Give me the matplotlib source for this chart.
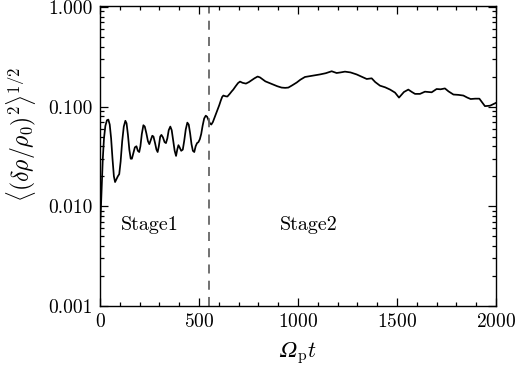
import numpy as np
import matplotlib.pyplot as plt
from matplotlib.ticker import MultipleLocator, LogLocator, FixedLocator

plt.rcParams['font.family'] = 'cmr10'
plt.rcParams['mathtext.fontset'] = 'cm'
plt.rcParams['axes.formatter.use_mathtext'] = True

# time (Omega_p t) and rms density fluctuation
t = [0, 3, 8, 14, 20, 27, 35, 42, 49, 56, 63, 70, 76, 82, 90, 97, 104, 112,
     120, 128, 134, 141, 148, 155, 161, 168, 176, 184, 191, 198, 204, 211, 219,
     226, 234, 242, 249, 256, 264, 270, 278, 285, 291, 297, 304, 310, 318, 326,
     333, 340, 347, 355, 362, 370, 377, 384, 390, 396, 402, 410, 418, 425, 433,
     441, 448, 455, 462, 469, 476, 483, 490, 497, 504, 511, 518, 526, 534, 541,
     548, 555, 562, 570, 578, 586, 594, 602, 610, 617, 623, 633, 643, 655, 665,
     673, 685, 697, 707, 720, 737, 752, 765, 780, 796, 808, 820, 835, 850, 862,
     875, 895, 917, 935, 951, 970, 993, 1012, 1035, 1055, 1077, 1095, 1111,
     1140, 1170, 1195, 1215, 1237, 1265, 1296, 1320, 1347, 1372, 1390, 1414,
     1440, 1465, 1490, 1510, 1535, 1557, 1575, 1591, 1616, 1641, 1660, 1675,
     1700, 1720, 1742, 1760, 1785, 1810, 1835, 1855, 1872, 1895, 1916, 1930,
     1944, 1970, 2000]
drho = [0.0052, 0.008, 0.015, 0.030, 0.048, 0.064, 0.073, 0.074, 0.066, 0.048,
        0.030, 0.020, 0.0175, 0.0185, 0.020, 0.021, 0.028, 0.045,
        0.063, 0.072, 0.068, 0.052, 0.037, 0.030, 0.030, 0.034, 0.039, 0.040,
        0.036, 0.035, 0.040, 0.053, 0.065,
        0.063, 0.054, 0.045, 0.042, 0.046, 0.051, 0.050, 0.043, 0.037, 0.035,
        0.040, 0.050, 0.052, 0.049, 0.044,
        0.043, 0.048, 0.058, 0.063, 0.058, 0.045, 0.036, 0.032, 0.037, 0.041,
        0.039, 0.036, 0.037, 0.045, 0.059,
        0.069, 0.066, 0.054, 0.042, 0.036, 0.035, 0.040, 0.043, 0.044, 0.047,
        0.053, 0.064, 0.076, 0.081, 0.079,
        0.073, 0.068, 0.066, 0.070, 0.077, 0.085, 0.093, 0.103, 0.115, 0.125,
        0.129, 0.127, 0.126, 0.134, 0.142,
        0.148, 0.160, 0.172, 0.178, 0.173, 0.170, 0.176, 0.183, 0.192, 0.200,
        0.196, 0.188, 0.179, 0.174, 0.170,
        0.166, 0.160, 0.155, 0.154, 0.155, 0.163, 0.174, 0.186, 0.198, 0.201,
        0.204, 0.207, 0.210,
        0.216, 0.226, 0.217, 0.220, 0.224, 0.220, 0.210, 0.200, 0.189, 0.192,
        0.176, 0.162,
        0.156, 0.148, 0.138, 0.123, 0.140, 0.148, 0.140, 0.134, 0.134, 0.141,
        0.140, 0.139,
        0.150, 0.149, 0.152, 0.142, 0.132, 0.131, 0.129, 0.123, 0.119, 0.120,
        0.120, 0.110,
        0.101, 0.102, 0.109]

t_split = 550
ytick_vals = [0.001, 0.01, 0.1, 1.0]
ytick_labels = ['0.001', '0.010', '0.100', '1.000']

fig = plt.figure(figsize=(5.27, 3.67), dpi=100)
ax = fig.add_axes([0.1898, 0.1662, 0.9412 - 0.1898, 0.9837 - 0.1662])

ax.plot(t, drho, color='black', lw=1.25)
ax.axvline(t_split, color='#666666', lw=1.3, dashes=(5, 4))

ax.set_yscale('log')
ax.set_xlim(0, 2000)
ax.set_ylim(0.001, 1.02)

ax.xaxis.set_major_locator(MultipleLocator(500))
ax.xaxis.set_minor_locator(MultipleLocator(100))
ax.yaxis.set_major_locator(FixedLocator(ytick_vals))
ax.set_yticklabels(ytick_labels)
ax.yaxis.set_minor_locator(LogLocator(base=10, subs=np.arange(2, 10)))
ax.yaxis.set_minor_formatter(plt.NullFormatter())

ax.tick_params(which='both', direction='in', top=True, right=True,
               labelsize=14, pad=5, width=0.9)
ax.tick_params(which='major', length=6)
ax.tick_params(which='minor', length=3)
for s in ax.spines.values():
    s.set_linewidth(1.0)

ax.text(253, 0.0065, 'Stage1', fontsize=14.5, ha='center', va='center')
ax.text(1053, 0.0065, 'Stage2', fontsize=14.5, ha='center', va='center')

ax.set_xlabel('Ω' + r'$_{\mathrm{p}}t$', fontsize=16, family='STIXGeneral',
              style='italic')
ax.xaxis.set_label_coords(0.5, -0.113)
ax.set_ylabel(r'$\langle(\delta\rho/\rho_0)^2\rangle^{1/2}$', fontsize=17)
ax.yaxis.set_label_coords(-0.157, 0.573)

fig.savefig('out.png', dpi=100)
